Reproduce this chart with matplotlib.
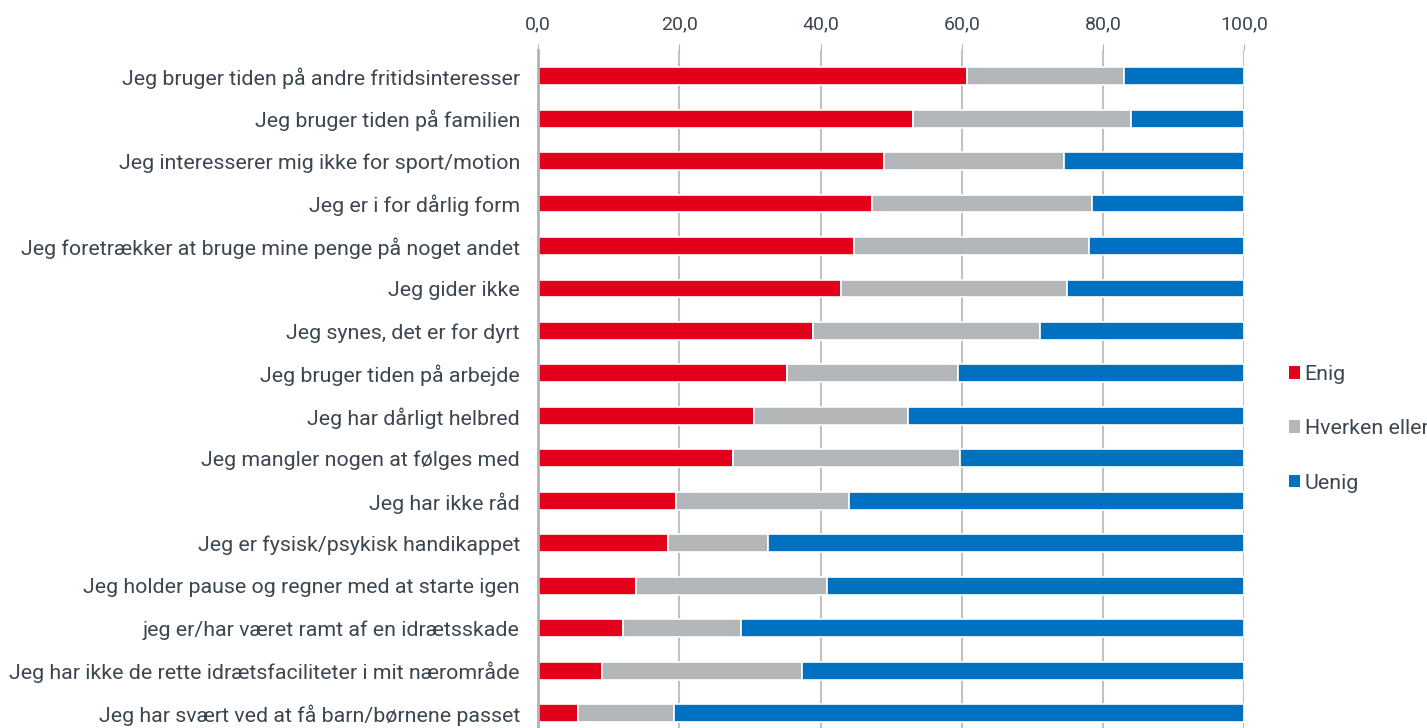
import numpy as np
import matplotlib.pyplot as plt
from matplotlib.patches import Patch

# Data (procent)
categories = [
    "Jeg bruger tiden på andre fritidsinteresser",
    "Jeg bruger tiden på familien",
    "Jeg interesserer mig ikke for sport/motion",
    "Jeg er i for dårlig form",
    "Jeg foretrækker at bruge mine penge på noget andet",
    "Jeg gider ikke",
    "Jeg synes, det er for dyrt",
    "Jeg bruger tiden på arbejde",
    "Jeg har dårligt helbred",
    "Jeg mangler nogen at følges med",
    "Jeg har ikke råd",
    "Jeg er fysisk/psykisk handikappet",
    "Jeg holder pause og regner med at starte igen",
    "jeg er/har været ramt af en idrætsskade",
    "Jeg har ikke de rette idrætsfaciliteter i mit nærområde",
    "Jeg har svært ved at få barn/børnene passet",
]
enig = [60.8, 53.1, 49.0, 47.3, 44.8, 42.9, 39.0, 35.3, 30.6, 27.6, 19.5, 18.4, 13.9, 12.0, 9.1, 5.7]
hverken = [22.2, 30.8, 25.5, 31.2, 33.2, 32.0, 32.1, 24.2, 21.8, 32.2, 24.6, 14.2, 27.0, 16.8, 28.3, 13.6]
uenig = [100 - a - b for a, b in zip(enig, hverken)]

series = ["Enig", "Hverken eller", "Uenig"]
colors = ["#E2001A", "#B4B7BA", "#0070C0"]
txt = "#3C4650"

plt.rcParams['font.family'] = ['Roboto', 'DejaVu Sans']

fig = plt.figure(figsize=(14.27, 7.28), dpi=100)
ax = fig.add_axes([0.377, 0.0, 0.495, 0.931])

y = np.arange(len(categories))
left = np.zeros(len(categories))
for vals, col in zip([enig, hverken, uenig], colors):
    ax.barh(y, vals, left=left, height=0.42, color=col, edgecolor="white", linewidth=1.2, zorder=3)
    left += np.array(vals)

ax.set_xlim(0, 100)
ax.set_ylim(15.35, -0.61)
ax.set_xticks(np.arange(0, 101, 20))
ax.set_xticklabels([f"{v:.1f}".replace(".", ",") for v in np.arange(0, 101, 20)])
ax.xaxis.tick_top()
ax.tick_params(axis="x", length=4, color="#B0B3B5", labelsize=14, labelcolor=txt, pad=8)
ax.set_yticks(y)
ax.set_yticklabels(categories)
ax.tick_params(axis="y", length=0, labelsize=15.4, labelcolor=txt, pad=13)

ax.grid(axis="x", color="#BFC1C3", linewidth=1.5, zorder=0)
for s in ["top", "right", "bottom"]:
    ax.spines[s].set_visible(False)
ax.spines["left"].set_color("#B0B3B5")
ax.spines["left"].set_linewidth(2)
ax.spines["left"].set_zorder(4)

handles = [Patch(facecolor=c, edgecolor="none") for c in colors]
fig.legend(handles, series, loc="center left", bbox_to_anchor=(0.897, 0.411), frameon=False,
           fontsize=15.4, labelcolor=txt, handlelength=0.55, handleheight=0.55, handletextpad=0.2,
           labelspacing=1.65, borderaxespad=0)

fig.savefig("out.png", dpi=100)
